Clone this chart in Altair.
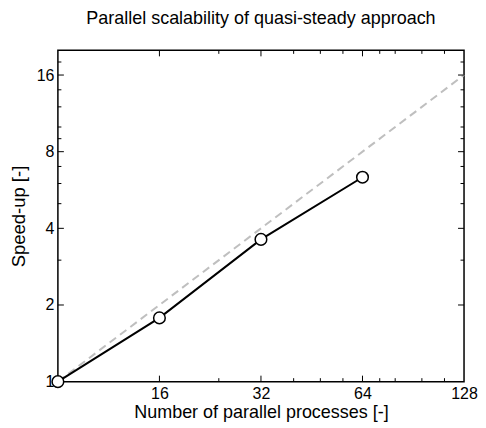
import altair as alt
import pandas as pd

# data
procs = [8, 16, 32, 64]
speedup = [1.0, 1.78, 3.62, 6.35]
ideal_x = [8, 128]
ideal_y = [1, 16]

x_major = [16, 32, 64]
x_minor = [24, 40, 48, 56, 72, 80, 96, 112]
y_major = [2, 4, 8, 16]
y_minor = [3, 5, 6, 7, 9, 10, 12, 14, 18]
x_labels = [16, 32, 64, 128]
y_labels = [1, 2, 4, 8, 16]

W, H = 407, 332
MAJ, MIN = 6, 3.5

xs = alt.Scale(type="log", base=2, domain=[8, 128], nice=False)
ys = alt.Scale(type="log", base=2, domain=[1, 20], nice=False)

df = pd.DataFrame({"x": procs, "y": speedup})
dfi = pd.DataFrame({"x": ideal_x, "y": ideal_y})

FONT = "Liberation Sans"

xaxis = alt.Axis(values=x_labels, format="d", title="Number of parallel processes [-]",
                 tickSize=0, domain=False, grid=False, labelFontSize=16,
                 labelPadding=4, titleFontSize=18, titleY=35.5, titleBaseline="alphabetic",
                 labelFlush=False, labelColor="black", titleColor="black",
                 titleFontWeight="normal", labelFont=FONT, titleFont=FONT)
yaxis = alt.Axis(values=y_labels, format="d", title="Speed-up [-]",
                 tickSize=0, domain=False, grid=False, labelFontSize=16,
                 labelPadding=4, titleFontSize=18.5, titlePadding=8,
                 labelFlush=False, labelColor="black", titleColor="black",
                 titleFontWeight="normal", labelFont=FONT, titleFont=FONT)


def X():
    return alt.X("x:Q", scale=xs, axis=xaxis)


def Y():
    return alt.Y("y:Q", scale=ys, axis=yaxis)


ideal = alt.Chart(dfi).mark_line(color="#bfbfbf", strokeWidth=2, strokeDash=[8, 5]).encode(x=X(), y=Y())
line = alt.Chart(df).mark_line(color="black", strokeWidth=2).encode(x=X(), y=Y())
pts = alt.Chart(df).mark_point(shape="circle", size=135, filled=False, color="black", fill="white",
                               fillOpacity=1, strokeWidth=1.5, opacity=1).encode(x=X(), y=Y())


def xticks(vals, length):
    d = pd.DataFrame({"x": vals})
    bottom = alt.Chart(d).mark_rule(color="black", strokeWidth=1).encode(
        x=X(), y=alt.value(H), y2=alt.value(H - length))
    top = alt.Chart(d).mark_rule(color="black", strokeWidth=1).encode(
        x=X(), y=alt.value(0), y2=alt.value(length))
    return [bottom, top]


def yticks(vals, length):
    d = pd.DataFrame({"y": vals})
    left = alt.Chart(d).mark_rule(color="black", strokeWidth=1).encode(
        y=Y(), x=alt.value(0), x2=alt.value(length))
    right = alt.Chart(d).mark_rule(color="black", strokeWidth=1).encode(
        y=Y(), x=alt.value(W), x2=alt.value(W - length))
    return [left, right]


layers = [ideal] + xticks(x_major, MAJ) + xticks(x_minor, MIN) + yticks(y_major, MAJ) + yticks(y_minor, MIN) + [line, pts]

chart = alt.layer(*layers).properties(
    width=W, height=H,
    title=alt.TitleParams("Parallel scalability of quasi-steady approach", fontSize=18, font=FONT,
                          fontWeight="normal", color="black", anchor="middle", offset=22),
    autosize=alt.AutoSizeParams(type="none"),
    padding={"left": 50, "top": 42, "right": 14, "bottom": 44},
    background="white",
).configure_view(stroke="black", strokeWidth=1.5)

chart.save("out.html", embed_options={"renderer": "svg", "actions": False})
